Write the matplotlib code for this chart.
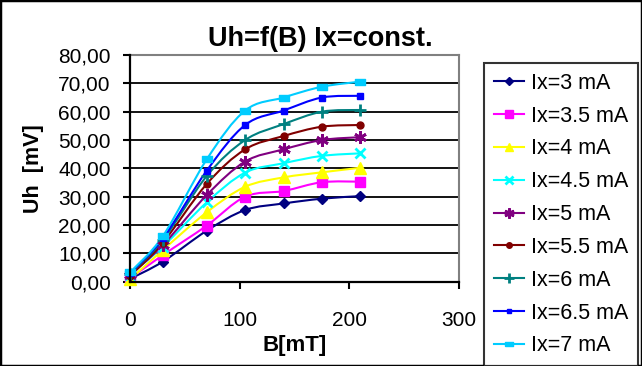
import numpy as np
import matplotlib
matplotlib.use("Agg")
import matplotlib.pyplot as plt
from matplotlib.path import Path
from matplotlib.patches import PathPatch, Rectangle
from matplotlib.lines import Line2D
from matplotlib.ticker import FuncFormatter, MultipleLocator

plt.rcParams['font.family'] = ['Liberation Sans', 'DejaVu Sans']

# Messwerte: B in mT, Uh in mV
B = [0, 30, 70, 105, 140, 175, 210]
uh_3 = [1.0, 7.1, 18.0, 25.3, 27.6, 29.3, 30.2]
uh_3_5 = [1.2, 9.4, 19.8, 30.0, 32.0, 35.1, 35.3]
uh_4 = [0.8, 11.2, 24.5, 33.5, 36.8, 38.6, 40.2]
uh_4_5 = [2.5, 12.4, 28.0, 38.5, 41.8, 44.4, 45.3]
uh_5 = [2.4, 12.9, 30.6, 42.4, 46.7, 50.0, 51.0]
uh_5_5 = [2.0, 13.8, 34.5, 46.7, 51.4, 54.7, 55.3]
uh_6 = [2.8, 14.7, 37.3, 50.0, 55.6, 60.0, 60.6]
uh_6_5 = [3.0, 15.3, 39.2, 55.3, 60.4, 65.0, 65.6]
uh_7 = [3.3, 16.1, 43.2, 60.4, 65.0, 68.8, 70.6]

labels = ['Ix=3 mA', 'Ix=3.5 mA', 'Ix=4 mA', 'Ix=4.5 mA', 'Ix=5 mA',
          'Ix=5.5 mA', 'Ix=6 mA', 'Ix=6.5 mA', 'Ix=7 mA']
reihen = [uh_3, uh_3_5, uh_4, uh_4_5, uh_5, uh_5_5, uh_6, uh_6_5, uh_7]

farben = ['#000080', '#FF00FF', '#FFFF00', '#00FFFF', '#800080',
          '#800000', '#008080', '#0000FF', '#00CCFF']
rechteck = [(-1, -0.55), (1, -0.55), (1, 0.55), (-1, 0.55), (-1, -0.55)]
marker = [('D', 5, 1), ('s', 7, 1), ('^', 8, 1), ('x', 7, 2), ((6, 2, 0), 9, 2),
          ('o', 5, 1), ('+', 9, 2), ('s', 4, 1), (rechteck, 7.5, 1)]


def glatt(x, y):
    # Excel-artige geglaettete Linie (Catmull-Rom als Bezier)
    p = np.column_stack([x, y]).astype(float)
    n = len(p)
    verts = [p[0]]
    codes = [Path.MOVETO]
    for i in range(n - 1):
        p0, p1 = p[max(i - 1, 0)], p[i]
        p2, p3 = p[i + 1], p[min(i + 2, n - 1)]
        verts += [p1 + (p2 - p0) / 6, p2 - (p3 - p1) / 6, p2]
        codes += [Path.CURVE4] * 3
    return Path(verts, codes)


fig = plt.figure(figsize=(6.42, 3.66), dpi=100)
ax = fig.add_axes([130 / 642, 1 - 281.7 / 366, 329 / 642, 226.7 / 366])

handles = []
for y, lab, c, (m, ms, mew) in zip(reihen, labels, farben, marker):
    ax.add_patch(PathPatch(glatt(B, y), fill=False, edgecolor=c, lw=1.5, zorder=3))
    ax.plot(B, y, linestyle='none', marker=m, markersize=ms, color=c,
            markeredgecolor=c, markeredgewidth=mew, zorder=4, clip_on=False)
    handles.append(Line2D([], [], color=c, lw=1.5, marker=m, markersize=ms * 0.8,
                          markeredgecolor=c, markeredgewidth=mew))

ax.set_xlim(0, 300)
ax.set_ylim(0, 80)
ax.xaxis.set_major_locator(MultipleLocator(100))
ax.yaxis.set_major_locator(MultipleLocator(10))
ax.yaxis.set_major_formatter(FuncFormatter(lambda v, p: f'{v:.2f}'.replace('.', ',')))
ax.tick_params(axis='both', labelsize=15, width=1.5, length=5, direction='out')
ax.tick_params(axis='x', pad=16)
ax.tick_params(axis='y', pad=9)

ax.yaxis.grid(True, color='black', lw=1.3)
ax.set_axisbelow(True)
for s in ['left', 'bottom']:
    ax.spines[s].set_linewidth(1.6)
    ax.spines[s].set_zorder(5)
for s in ['top', 'right']:
    ax.spines[s].set_color('#808080')
    ax.spines[s].set_linewidth(1.5)

ax.set_xlabel('B[mT]', fontsize=16, fontweight='bold', labelpad=4)
ax.set_ylabel('Uh  [mV]', fontsize=15.5, fontweight='bold')
ax.yaxis.set_label_coords(-(130 - 44) / 329, 0.5)
fig.text(0.4985, 1 - 39 / 366, 'Uh=f(B) Ix=const.', fontsize=19.5,
         fontweight='bold', ha='center', va='center')

leg = fig.legend(handles, labels, loc='upper left',
                 bbox_to_anchor=(484 / 642, 1 - 63 / 366), fontsize=15.5,
                 frameon=True, fancybox=False, edgecolor='black',
                 handlelength=1.4, handletextpad=0.35, labelspacing=0.55,
                 borderpad=0.45, borderaxespad=0)
leg.get_frame().set_linewidth(1.5)

fig.patches.append(Rectangle((0, 0), 1, 1, transform=fig.transFigure,
                             fill=False, edgecolor='black', lw=2.5))

fig.savefig('out.png', dpi=100)
